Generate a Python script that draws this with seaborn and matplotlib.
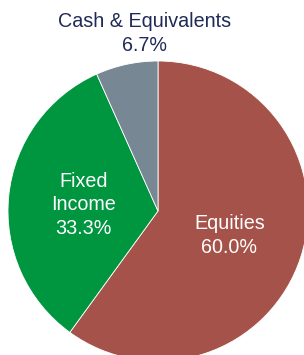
import numpy as np
import seaborn as sns
import matplotlib
matplotlib.use("Agg")
import matplotlib.pyplot as plt

sns.set_style("white")
plt.rcParams['font.family'] = ['Liberation Sans', 'DejaVu Sans']

# Asset allocation data
labels = ['Equities', 'Fixed\nIncome', 'Cash & Equivalents']
values = [60.0, 33.3, 6.7]
colors = ['#A5534A', '#00953F', '#778793']

fig = plt.figure(figsize=(3.04, 3.55), dpi=100)
ax = fig.add_axes([0, 0, 1, 1])

wedges, _ = ax.pie(values, colors=colors, startangle=90, counterclock=False,
                   radius=1.0, wedgeprops=dict(edgecolor='white', linewidth=0.6))

# inside labels for the two big slices
for w, lab, v in zip(wedges[:2], labels[:2], values[:2]):
    mid = np.deg2rad((w.theta1 + w.theta2) / 2)
    ax.text(0.5 * np.cos(mid), 0.5 * np.sin(mid) - 0.01, f"{lab}\n{v:.1f}%",
            ha='center', va='center', color='white', fontsize=14.2, linespacing=1.3)

# small slice gets its label above the pie
ax.text(-0.09, 1.185, f"{labels[2]}\n{values[2]:.1f}%", ha='center', va='center',
        color='#1F2A56', fontsize=14.2, linespacing=1.3)

ax.set_xlim(-1.0533, 0.9733)
ax.set_ylim(-0.96, 1.4067)
ax.set_aspect('auto')
ax.axis('off')

fig.savefig('out.png', dpi=100)
